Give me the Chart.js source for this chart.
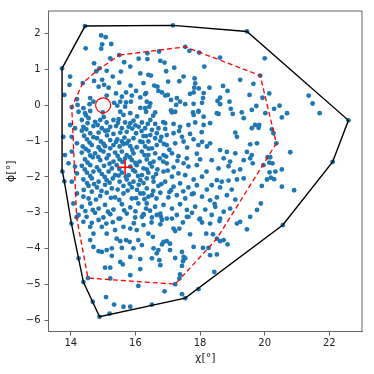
<!DOCTYPE html>
<html>
<head>
<meta charset="utf-8">
<script src="https://cdn.jsdelivr.net/npm/chart.js@4"></script>
<style>
  html, body { margin: 0; padding: 0; background: #fff; }
  #wrap { width: 374px; height: 374px; }
</style>
</head>
<body>
<div id="wrap"><canvas id="chart" width="374" height="374"></canvas></div>
<script>
const xTicks = [14, 16, 18, 20, 22];
const yTicks = [-6, -5, -4, -3, -2, -1, 0, 1, 2];

// outer hull (black) and inner hull (red dashed), closed polygons
const outerHull = [[13.73,1.03],[14.44,2.21],[17.16,2.23],[19.45,2.06],[22.59,-0.42],[22.10,-1.58],[20.56,-3.34],[17.54,-5.38],[14.89,-5.90],[14.39,-4.93],[14.02,-3.30],[13.80,-2.12],[13.74,-1.85],[13.73,1.03]];
const innerHull = [[15.50,1.40],[17.54,1.63],[19.86,0.83],[20.36,-1.06],[18.52,-3.72],[17.23,-4.99],[14.53,-4.82],[14.18,-3.12],[14.03,-0.05],[14.37,0.62],[14.79,0.95],[15.50,1.40]];

const refPoint = [15.0, 0.0];
const meanPoint = [15.68, -1.73];

// sample points (chi, phi)
const samples = [
  [14.94,1.95],[15.08,1.90],[14.46,1.59],[15.25,1.71],[14.97,1.70],[14.94,1.58],[14.72,1.17],[15.22,1.31],[13.98,0.80],[13.96,0.57],
  [14.89,1.03],[15.55,0.94],[15.84,1.08],[16.15,0.89],[16.40,0.85],[15.11,0.96],[14.97,0.71],[14.86,0.52],[15.03,0.57],[15.17,0.49],
  [15.50,0.63],[14.72,0.68],[13.80,0.29],[14.19,0.17],[14.60,0.20],[15.11,0.27],[15.40,0.33],[15.58,0.24],[15.71,0.36],[15.89,0.27],
  [16.02,0.40],[16.15,0.22],[16.33,0.34],[15.53,0.10],[15.71,0.08],[15.86,0.10],[14.21,0.01],[14.39,-0.08],[14.58,0.03],[14.70,0.10],
  [15.34,0.07],[15.44,-0.01],[15.68,-0.04],[16.15,-0.07],[16.30,-0.08],[16.43,-0.04],[14.60,-0.16],[14.44,-0.22],[14.99,-0.20],[15.53,-0.18],[15.84,-0.22],
  [17.67,1.52],[17.97,1.47],[16.37,1.45],[16.73,1.50],[16.37,1.29],[16.77,1.24],[16.90,1.19],[18.62,1.33],[18.13,1.08],[16.48,0.83],
  [17.49,0.80],[17.83,0.75],[17.01,0.66],[17.36,0.67],[19.24,0.71],[16.58,0.55],[16.68,0.52],[16.71,0.40],[16.82,0.36],[17.00,0.29],
  [17.85,0.61],[17.82,0.49],[17.96,0.47],[18.29,0.49],[18.71,0.54],[18.85,0.40],[17.80,0.36],[17.69,0.32],[18.11,0.34],[16.30,0.31],
  [16.92,0.27],[17.28,0.20],[17.10,0.15],[17.38,0.10],[17.26,0.01],[17.54,0.03],[18.09,0.20],[18.62,0.21],[18.54,0.12],[18.62,0.03],
  [18.91,0.10],[18.06,0.07],[17.80,0.04],[16.46,0.05],[16.35,0.10],[16.33,-0.18],[16.61,-0.20],[17.10,-0.14],[17.23,-0.18],[17.78,-0.20],
  [17.95,-0.16],[18.52,-0.22],[18.95,-0.10],[19.29,-0.20],[19.53,0.29],
  [20.00,1.31],[19.65,0.60],[19.93,0.21],[20.14,0.33],[21.36,0.27],[21.48,0.05],[21.70,-0.22],[20.46,-0.01],[20.29,-0.10],[19.74,-0.02],
  [19.60,-0.13],[20.02,-0.22],[20.69,-0.22],
  [20.53,-0.34],[19.70,-0.55],[19.83,-0.55],[19.81,-0.63],[19.60,-0.64],[20.22,-0.67],[20.27,-0.78],[19.76,-1.06],[19.55,-1.09],[20.79,-1.31],
  [19.60,-1.39],[19.55,-1.48],[20.09,-1.45],[20.17,-1.45],[20.14,-1.60],[20.24,-1.62],[19.63,-1.62],[19.96,-1.67],[20.53,-1.79],[20.15,-1.87],
  [20.33,-1.85],[20.19,-2.02],[20.29,-2.06],[20.07,-2.07],[19.91,-2.25],[20.53,-2.27],[20.91,-2.37],[19.88,-2.74],[19.76,-2.92],[19.55,-3.11],
  [14.24,-4.27],[14.68,-5.48],[15.09,-5.35],[15.20,-5.81],[15.34,-5.56],[15.63,-5.62],[15.84,-5.62],[16.09,-5.04],[15.84,-4.74],[15.22,-4.83],
  [15.06,-4.53],[15.22,-4.53],[15.53,-4.37],[15.61,-4.44],[16.15,-4.57],[16.15,-4.29],[15.27,-4.20],[15.84,-4.23],[14.86,-4.07],[14.96,-4.09],
  [15.11,-4.04],[14.70,-3.95],[15.27,-3.99],[15.58,-3.98],[15.94,-3.99],[15.53,-3.79],[15.71,-3.76],[15.82,-3.81],[15.42,-3.72],[16.09,-3.76],
  [14.60,-3.76],[14.70,-3.58],[15.11,-3.58],[15.37,-3.48],[15.84,-3.44],[15.63,-3.39],[14.96,-3.39],[14.60,-3.39],[14.39,-3.25],[14.86,-3.20],
  [15.53,-3.16],[16.04,-3.48],[16.20,-3.11],
  [16.25,-3.34],[16.40,-3.58],[16.54,-3.67],[16.66,-3.06],[16.79,-3.11],[16.77,-3.32],[16.82,-3.20],[17.13,-3.16],[17.18,-3.44],[17.23,-3.51],
  [17.36,-3.44],[17.47,-3.27],[17.64,-3.11],[17.69,-3.60],[17.98,-3.18],[18.06,-3.27],[18.31,-3.30],[18.60,-3.23],[18.19,-3.58],[18.40,-3.60],
  [18.62,-3.79],[18.73,-3.76],[18.85,-3.88],[19.14,-3.30],[19.45,-3.46],[19.24,-3.25],[16.87,-3.81],[16.97,-3.79],[16.82,-3.88],[17.07,-3.86],
  [16.20,-3.90],[16.56,-3.99],[16.71,-4.04],[16.66,-4.13],[16.51,-4.27],[16.74,-4.32],[16.77,-4.46],[17.07,-4.04],[17.23,-4.26],[17.44,-4.09],
  [17.49,-4.23],[17.54,-4.27],[17.47,-4.35],[17.80,-3.95],[18.09,-3.98],[18.26,-3.98],[18.31,-4.18],[18.52,-4.16],[17.44,-4.48],[17.38,-4.72],
  [17.36,-4.83],[18.44,-4.65],[16.90,-5.19],[17.44,-5.27],[17.95,-5.13],[16.51,-5.56],
  [14.34,-0.41],[14.55,-0.36],[14.75,-0.46],[14.91,-0.41],[15.11,-0.48],[15.32,-0.41],[15.48,-0.39],[15.68,-0.48],[15.84,-0.50],[15.94,-0.43],
  [16.20,-0.48],[16.46,-0.41],[16.61,-0.52],[14.39,-0.60],[14.70,-0.58],[14.96,-0.64],[15.22,-0.60],[15.40,-0.58],[15.58,-0.64],[15.79,-0.60],
  [16.10,-0.60],[16.30,-0.64],[16.51,-0.69],[16.71,-0.64],[14.34,-0.71],[14.60,-0.78],[14.86,-0.76],[15.06,-0.71],[15.32,-0.80],[15.53,-0.76],
  [15.73,-0.74],[16.02,-0.78],[16.25,-0.86],[16.46,-0.83],[16.66,-0.78],[14.50,-0.95],[14.81,-0.92],[14.93,-1.01],[15.22,-0.97],[15.44,-0.95],
  [15.58,-1.01],[15.79,-0.99],[15.94,-0.92],[16.15,-1.01],[16.40,-1.01],[16.61,-0.92],[16.77,-0.99],[14.37,-1.15],[14.65,-1.11],[14.86,-1.17],
  [15.06,-1.14],[15.32,-1.11],[15.51,-1.15],[15.63,-1.08],[15.84,-1.14],[16.04,-1.17],[16.30,-1.15],[16.51,-1.20],[16.66,-1.11],[14.34,-1.32],
  [14.55,-1.27],[14.75,-1.34],[15.01,-1.29],[15.17,-1.39],[15.37,-1.32],[15.58,-1.29],[15.73,-1.39],[15.94,-1.34],[16.20,-1.29],[16.40,-1.39],
  [16.61,-1.34],[14.44,-1.51],[14.68,-1.45],[14.91,-1.53],[15.11,-1.48],[15.32,-1.57],[15.51,-1.51],[15.68,-1.48],[15.89,-1.53],[16.13,-1.57],
  [16.35,-1.51],[16.56,-1.57],[16.75,-1.48],[14.34,-1.69],[14.60,-1.67],[14.81,-1.73],[15.03,-1.69],[15.27,-1.76],[15.42,-1.67],[15.84,-1.71],
  [16.04,-1.67],[16.25,-1.76],[16.51,-1.71],[16.68,-1.79],[14.50,-1.88],[14.70,-1.85],[14.96,-1.92],[15.17,-1.85],[15.37,-1.95],[15.58,-1.88],
  [15.79,-1.95],[15.99,-1.85],[16.20,-1.95],[16.40,-1.88],[16.64,-1.92],[14.39,-2.07],[14.65,-2.04],[14.86,-2.13],[15.11,-2.09],[15.30,-2.04],
  [15.51,-2.13],[15.73,-2.07],[15.94,-2.13],[16.15,-2.09],[16.35,-2.04],[16.56,-2.13],[14.55,-2.25],[14.81,-2.29],[15.06,-2.22],[15.27,-2.32],
  [15.63,-2.25],[15.89,-2.29],[16.10,-2.22],[16.35,-2.32],[16.71,-2.25],
  [14.24,-0.18],[13.98,-0.55],[14.13,-0.64],[13.77,-0.88],[14.03,-0.88],[14.19,-1.06],[13.82,-1.39],[14.03,-1.29],[13.93,-1.62],[14.13,-1.71],
  [14.19,-1.90],[14.03,-2.13],[14.08,-2.74],[14.24,-3.06],[14.19,-2.46],
  [14.39,-2.55],[14.65,-2.41],[14.91,-2.53],[15.11,-2.44],[15.37,-2.57],[15.63,-2.46],[15.89,-2.60],[16.15,-2.46],[16.40,-2.55],
  [14.34,-2.83],[14.60,-2.74],[14.86,-2.88],[15.06,-2.78],[15.32,-2.91],[15.58,-2.76],[15.84,-2.85],[16.09,-2.74],[16.33,-2.88],
  [14.49,-3.11],[14.75,-3.00],[15.01,-3.13],[15.22,-3.04],[15.48,-3.16],[15.73,-3.02],[15.99,-3.13],[16.25,-3.04],
  [17.13,-0.20],[17.80,-0.27],[17.95,-0.18],[18.11,-0.32],[18.57,-0.24],[19.01,-0.24],[19.35,-0.36],
  [16.92,-0.50],[17.18,-0.52],[17.38,-0.60],[17.64,-0.55],[17.85,-0.48],[18.11,-0.55],[18.31,-0.50],
  [16.97,-0.83],[17.18,-0.78],[17.44,-0.88],[17.69,-0.80],[17.80,-0.95],[18.06,-1.02],[18.31,-1.06],[19.14,-0.88],[19.09,-0.76],
  [16.97,-1.11],[17.23,-1.06],[17.49,-1.01],[17.95,-1.11],[18.21,-1.15],[18.62,-1.25],[18.83,-1.30],[19.09,-1.34],[19.45,-1.30],
  [16.87,-1.39],[17.13,-1.34],[17.33,-1.42],[17.59,-1.48],[18.00,-1.51],[18.36,-1.53],[18.73,-1.48],[18.93,-1.57],[19.35,-1.53],
  [16.97,-1.62],[17.18,-1.73],[17.49,-1.62],[17.64,-1.71],[17.90,-1.67],[18.57,-1.76],[18.88,-1.70],[19.04,-1.85],[19.24,-1.79],
  [16.87,-1.85],[17.13,-1.99],[17.33,-1.90],[17.54,-1.95],[17.80,-2.07],[18.06,-1.99],[18.52,-2.09],[18.67,-2.13],[18.88,-2.10],[19.14,-2.07],[19.35,-2.04],
  [16.92,-2.13],[17.18,-2.27],[17.38,-2.18],[17.64,-2.29],[17.90,-2.23],[18.21,-2.35],[18.36,-2.23],[18.62,-2.29],[18.98,-2.35],
  [16.25,-2.46],[16.51,-2.51],[16.77,-2.44],[17.02,-2.57],[17.28,-2.51],[17.54,-2.60],[17.80,-2.46],[18.06,-2.55],[18.31,-2.65],[18.52,-2.57],[18.83,-2.51],[19.09,-2.63],
  [16.35,-2.74],[16.61,-2.83],[16.87,-2.78],[17.13,-2.88],[17.38,-2.76],[17.59,-2.92],[17.85,-2.83],[18.16,-2.91],[18.47,-2.83],[18.73,-2.97],[18.93,-2.88],
  [16.25,-3.06],[16.51,-3.13],[16.77,-3.02],[16.97,-3.16],[17.28,-3.06],[17.59,-3.11],[17.75,-3.00],[18.00,-3.16],[18.36,-3.06],[18.62,-3.16]
];

// extra points in the dense core, read where dots overlap
const samplesCore = [
  [14.47,-0.28],[15.02,-0.33],[15.63,-0.27],[16.05,-0.31],[16.55,-0.29],
  [14.52,-0.50],[14.83,-0.55],[15.46,-0.49],[16.00,-0.56],[16.38,-0.52],[16.86,-0.47],
  [14.48,-0.67],[15.15,-0.70],[15.90,-0.65],[16.19,-0.72],[16.92,-0.66],
  [14.41,-0.85],[14.70,-0.89],[15.12,-0.84],[15.66,-0.90],[16.33,-0.86],[16.80,-0.88],
  [14.58,-1.04],[15.01,-1.07],[15.40,-1.02],[15.73,-1.06],[16.22,-1.03],[16.88,-1.08],
  [14.46,-1.22],[14.92,-1.25],[15.22,-1.20],[15.90,-1.24],[16.41,-1.21],[17.05,-1.24],
  [14.60,-1.40],[14.85,-1.44],[15.45,-1.41],[15.83,-1.45],[16.28,-1.39],[16.95,-1.43],
  [14.52,-1.60],[15.20,-1.63],[15.60,-1.58],[16.00,-1.61],[16.45,-1.62],[16.86,-1.57],
  [14.43,-1.79],[14.88,-1.82],[15.50,-1.78],[15.93,-1.81],[16.35,-1.79],[17.00,-1.82],
  [14.60,-1.97],[15.05,-2.00],[15.48,-1.96],[15.70,-1.99],[16.08,-1.97],[16.55,-2.01],
  [14.50,-2.17],[14.72,-2.20],[15.20,-2.16],[15.82,-2.19],[16.25,-2.17],[16.80,-2.20],
  [14.40,-2.36],[14.95,-2.39],[15.45,-2.35],[15.76,-2.38],[16.05,-2.36],[16.55,-2.39],[17.10,-2.37],
  [14.55,-2.60],[14.78,-2.63],[15.24,-2.58],[15.50,-2.64],[16.02,-2.59],[16.28,-2.62],[16.65,-2.60],
  [14.45,-2.95],[14.68,-2.92],[15.15,-2.97],[15.65,-2.93],[16.00,-2.96],[16.45,-2.94],
  [14.65,-3.28],[15.10,-3.30],[15.30,-3.26],[15.95,-3.29],[16.50,-3.27],
  [17.35,-0.72],[17.60,-1.18],[17.90,-1.35],[17.75,-2.48],[17.48,-2.40],[18.20,-1.85],[17.05,-2.42],[18.45,-2.75],[17.30,-1.55],[18.05,-0.75],
  [15.85,0.55],[16.25,0.62],[15.30,0.80],[16.95,0.95],[17.20,1.05],[15.65,1.20],[16.10,1.30]
];

const toXY = (p) => ({ x: p[0], y: p[1] });

// hull vertices are samples too
const allSamples = samples.concat(samplesCore, outerHull.slice(0, -1), innerHull.slice(0, -1));

const frame = {
  id: 'frame',
  afterDraw(chart) {
    const a = chart.chartArea, ctx = chart.ctx;
    ctx.save();
    ctx.strokeStyle = '#666';
    ctx.lineWidth = 1;
    ctx.strokeRect(a.left, a.top, a.right - a.left, a.bottom - a.top);
    ctx.restore();
  }
};

const tickFont = { family: 'DejaVu Sans', size: 10 };
const minus = (v) => (v < 0 ? '\u2212' + Math.abs(v) : String(v));

new Chart(document.getElementById('chart'), {
  type: 'scatter',
  data: {
    datasets: [
      {
        data: [toXY(refPoint)],
        pointStyle: 'circle', pointRadius: 7.5,
        pointBackgroundColor: 'rgba(0,0,0,0)', pointBorderColor: '#ff0000', pointBorderWidth: 1.2,
        order: 0
      },
      {
        data: [toXY(meanPoint)],
        pointStyle: 'cross', pointRadius: 7.5,
        pointBorderColor: '#ff0000', pointBorderWidth: 1.6,
        order: 0
      },
      {
        data: innerHull.map(toXY), showLine: true,
        borderColor: '#ff0000', borderWidth: 1.3, borderDash: [5, 3],
        pointRadius: 0, fill: false, tension: 0,
        order: 1
      },
      {
        data: outerHull.map(toXY), showLine: true,
        borderColor: '#000000', borderWidth: 1.4,
        pointRadius: 0, fill: false, tension: 0,
        order: 2
      },
      {
        data: allSamples.map(toXY),
        pointRadius: 2.4, pointBorderWidth: 0,
        pointBackgroundColor: '#1f77b4',
        order: 3
      }
    ]
  },
  options: {
    responsive: false,
    animation: false,
    events: [],
    layout: { padding: { top: 11, right: 12, left: 0, bottom: 0 } },
    plugins: { legend: { display: false }, tooltip: { enabled: false } },
    scales: {
      x: {
        type: 'linear', min: 13.31, max: 23.01,
        afterBuildTicks: (s) => { s.ticks = xTicks.map(v => ({ value: v })); },
        afterFit: (s) => { s.height = 42.5; },
        grid: { drawOnChartArea: false, tickLength: 4, color: '#666' },
        border: { color: '#666' },
        ticks: { font: tickFont, color: '#222', padding: 2, maxRotation: 0, callback: minus },
        title: { display: true, text: 'χ[°]', font: { family: 'DejaVu Sans', size: 11 }, color: '#222', padding: { top: 0, bottom: 9 } }
      },
      y: {
        type: 'linear', min: -6.31, max: 2.63,
        afterBuildTicks: (s) => { s.ticks = yTicks.map(v => ({ value: v })); },
        afterFit: (s) => { s.width = 48.5; },
        grid: { drawOnChartArea: false, tickLength: 4, color: '#666' },
        border: { color: '#666' },
        ticks: { font: tickFont, color: '#222', padding: 4, callback: minus },
        title: { display: true, text: 'ϕ[°]', font: { family: 'DejaVu Sans', size: 11 }, color: '#222', padding: { top: 5, bottom: 0 } }
      }
    }
  },
  plugins: [frame]
});
</script>
</body>
</html>
